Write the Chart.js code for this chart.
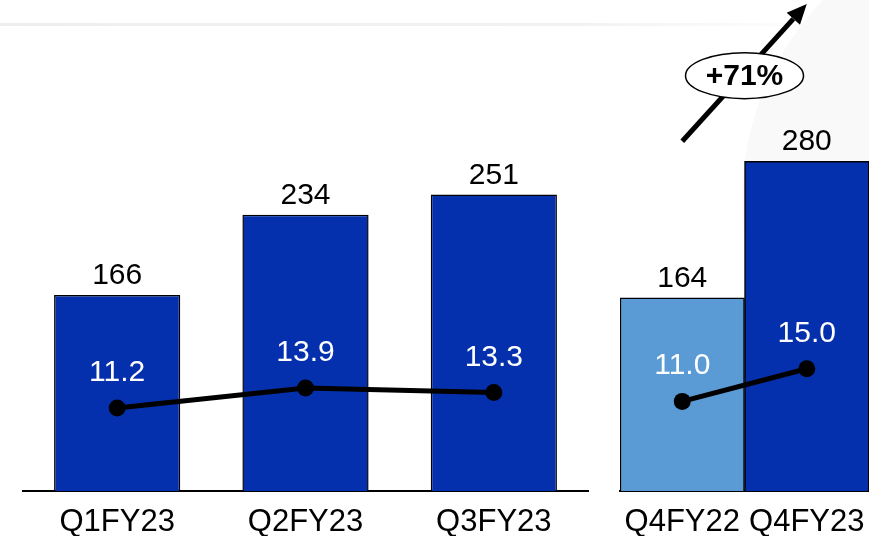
<!DOCTYPE html>
<html>
<head>
<meta charset="utf-8">
<script src="https://cdn.jsdelivr.net/npm/chart.js@4.4.0/dist/chart.umd.min.js"></script>
<style>
  html, body { margin: 0; padding: 0; background: #fff; overflow: hidden; }
  #wrap { position: relative; width: 869px; height: 536px; overflow: hidden; background: #fff; }
  .band { position: absolute; left: 0; top: 23px; width: 830px; height: 3px;
          background: linear-gradient(to right, #eeeeee, #f2f2f2 70%, rgba(246,246,246,0)); }
  .shade { position: absolute; left: 742px; top: -87px; width: 574px; height: 574px;
           border-radius: 50%; background: #f9f9f9; }
  canvas { position: absolute; top: 0; }
  #quarters { left: 0; }
  #yoy { left: 600px; }
</style>
</head>
<body>
<div id="wrap">
  <div class="band"></div>
  <div class="shade"></div>
  <canvas id="quarters" width="600" height="536"></canvas>
  <canvas id="yoy" width="280" height="536"></canvas>
</div>
<script>
const quarterLabels = ['Q1FY23', 'Q2FY23', 'Q3FY23'];
const quarterBars = [166, 234, 251];
const quarterLine = [11.2, 13.9, 13.3];

const yoyLabels = ['Q4FY22', 'Q4FY23'];
const yoyBars = [164, 280];
const yoyLine = [11.0, 15.0];

const FONT = '"Liberation Sans", Arial, Helvetica, sans-serif';
const DARK_BLUE = '#0530AD';
const LIGHT_BLUE = '#5B9BD5';

// numbers above the bars (black) and above the line points (white)
const valueLabels = {
  id: 'valueLabels',
  afterDatasetsDraw(chart) {
    const ctx = chart.ctx;
    ctx.save();
    ctx.font = '30px ' + FONT;
    ctx.textAlign = 'center';
    ctx.textBaseline = 'alphabetic';
    chart.data.datasets.forEach((ds, i) => {
      chart.getDatasetMeta(i).data.forEach((el, j) => {
        const v = ds.data[j];
        if (ds.type === 'line') {
          ctx.fillStyle = '#fff';
          ctx.fillText(v.toFixed(1), el.x, el.y - 27);
        } else {
          ctx.fillStyle = '#000';
          ctx.fillText(String(v), el.x, el.y - 11);
        }
      });
    });
    ctx.restore();
  }
};

// growth arrow with the percentage bubble
const growthArrow = {
  id: 'growthArrow',
  afterDraw(chart) {
    const ctx = chart.ctx;
    const bars = chart.getDatasetMeta(1).data;
    const x0 = bars[0].x, x1 = bars[1].x;
    const y0 = bars[1].y - 20, y1 = 4;
    const ang = Math.atan2(y1 - y0, x1 - x0);
    const headLen = 20, headW = 9;
    const bx = x1 - headLen * Math.cos(ang), by = y1 - headLen * Math.sin(ang);

    ctx.save();
    ctx.strokeStyle = '#000';
    ctx.fillStyle = '#000';
    ctx.lineWidth = 5;
    ctx.beginPath();
    ctx.moveTo(x0, y0);
    ctx.lineTo(bx, by);
    ctx.stroke();
    ctx.beginPath();
    ctx.moveTo(x1, y1);
    ctx.lineTo(bx + headW * Math.sin(ang), by - headW * Math.cos(ang));
    ctx.lineTo(bx - headW * Math.sin(ang), by + headW * Math.cos(ang));
    ctx.closePath();
    ctx.fill();

    const cx = (x0 + x1) / 2, cy = (y0 + y1) / 2 + 3;
    ctx.beginPath();
    ctx.ellipse(cx, cy, 59, 23, 0, 0, Math.PI * 2);
    ctx.fillStyle = '#fff';
    ctx.fill();
    ctx.lineWidth = 1.5;
    ctx.stroke();

    const growth = Math.round((yoyBars[1] / yoyBars[0] - 1) * 100);
    ctx.fillStyle = '#000';
    ctx.font = 'bold 30px ' + FONT;
    ctx.textAlign = 'center';
    ctx.textBaseline = 'middle';
    ctx.fillText('+' + growth + '%', cx, cy + 1);
    ctx.restore();
  }
};

function makeChart(id, labels, bars, line, barColors, barPct, pad, barMax, lineMax, extra) {
  return new Chart(document.getElementById(id), {
    type: 'bar',
    data: {
      labels: labels,
      datasets: [{
        type: 'line',
        data: line,
        yAxisID: 'y2',
        borderColor: '#000',
        borderWidth: 5,
        pointRadius: 8.5,
        pointBackgroundColor: '#000',
        pointBorderColor: '#000',
        pointBorderWidth: 0,
        tension: 0,
        order: 0
      }, {
        type: 'bar',
        data: bars,
        yAxisID: 'y',
        backgroundColor: barColors,
        borderColor: '#000',
        borderWidth: 1.5,
        barPercentage: barPct,
        categoryPercentage: 1,
        order: 1
      }]
    },
    options: {
      responsive: false,
      animation: false,
      devicePixelRatio: 1,
      layout: { padding: pad },
      plugins: { legend: { display: false }, tooltip: { enabled: false } },
      scales: {
        x: {
          grid: { display: false, drawTicks: false },
          border: { display: true, color: '#000', width: 2 },
          ticks: { color: '#000', font: { size: 31, family: FONT }, padding: 13, maxRotation: 0 },
          afterFit(s) { s.height = 45; }
        },
        y: { display: false, min: 0, max: barMax },
        y2: { display: false, min: 0, max: lineMax }
      }
    },
    plugins: [valueLabels].concat(extra)
  });
}

makeChart('quarters', quarterLabels, quarterBars, quarterLine, DARK_BLUE, 0.67,
  { left: 23, right: 12, top: 60, bottom: 0 }, 365, 58.2, []);
makeChart('yoy', yoyLabels, yoyBars, yoyLine, [LIGHT_BLUE, DARK_BLUE], 1,
  { left: 20, right: 10, top: 60, bottom: 0 }, 366, 52.9, [growthArrow]);
</script>
</body>
</html>
